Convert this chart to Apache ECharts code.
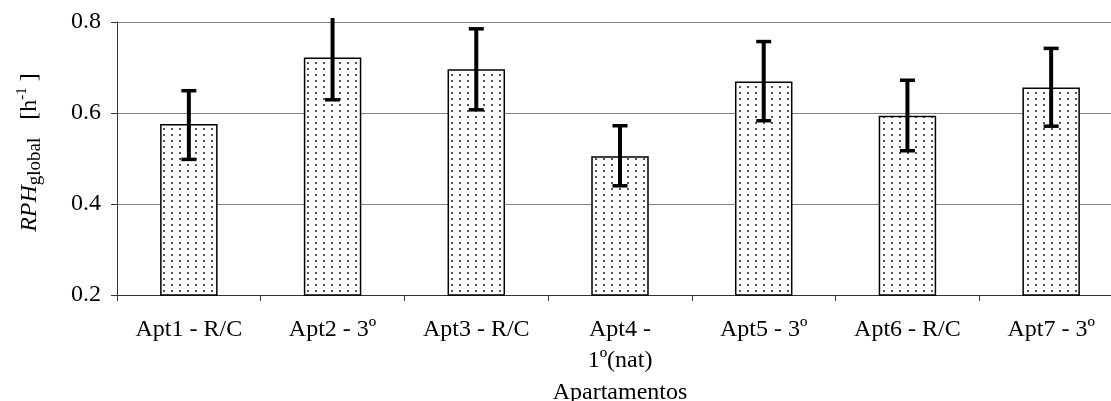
<!DOCTYPE html>
<html>
<head>
<meta charset="utf-8">
<script src="https://cdn.jsdelivr.net/npm/echarts@6/dist/echarts.min.js"></script>
<style>
html,body{margin:0;padding:0;background:#fff;}
#chart{width:1111px;height:401px;}
</style>
</head>
<body>
<div id="chart"></div>
<script>
const categories = ['Apt1 - R/C', 'Apt2 - 3º', 'Apt3 - R/C', 'Apt4 -\n1º(nat)', 'Apt5 - 3º', 'Apt6 - R/C', 'Apt7 - 3º'];
const values = [0.576, 0.722, 0.696, 0.505, 0.669, 0.594, 0.656];
const errorLow = [0.498, 0.629, 0.607, 0.440, 0.583, 0.517, 0.571];
const errorHigh = [0.649, 0.816, 0.785, 0.572, 0.757, 0.672, 0.742];
const yTicks = [0.2, 0.4, 0.6, 0.8];
const xTitle = 'Apartamentos';

const FONT = '"Liberation Serif", "Times New Roman", serif';

// dotted pattern
const pat = document.createElement('canvas');
pat.width = 8; pat.height = 6;
const pc = pat.getContext('2d');
pc.fillStyle = '#fff';
pc.fillRect(0, 0, 8, 6);
pc.fillStyle = '#555';
pc.fillRect(3, 2, 2, 2);

const chart = echarts.init(document.getElementById('chart'), null, {renderer: 'canvas'});

const errData = categories.map((c, i) => [i, errorLow[i], errorHigh[i]]);

chart.setOption({
  animation: false,
  backgroundColor: '#fff',
  grid: {left: 117, top: 22, width: 1006, bottom: 106, containLabel: false, outerBoundsMode: 'none'},
  xAxis: {
    type: 'category',
    data: categories,
    boundaryGap: true,
    axisLine: {lineStyle: {color: '#333', width: 1}},
    axisTick: {show: true, length: 6, lineStyle: {color: '#333'}},
    axisLabel: {fontFamily: FONT, fontSize: 24, color: '#000', margin: 19, lineHeight: 31, interval: 0},
    name: xTitle,
    nameLocation: 'middle',
    nameGap: 84,
    nameTextStyle: {fontFamily: FONT, fontSize: 24, color: '#000'}
  },
  yAxis: {
    type: 'value',
    min: yTicks[0],
    max: yTicks[yTicks.length - 1],
    interval: yTicks[1] - yTicks[0],
    axisLine: {show: true, lineStyle: {color: '#333', width: 1}},
    axisTick: {show: true, length: 6, lineStyle: {color: '#333'}},
    axisLabel: {fontFamily: FONT, fontSize: 24, color: '#000', margin: 16, formatter: v => v.toFixed(1)},
    splitLine: {show: true, lineStyle: {color: '#808080', width: 1}},
    name: '{i|RPH}{sub|global}{n|   [h}{sup|-1}{n| ]}',
    nameLocation: 'middle',
    nameRotate: 90,
    nameGap: 72,
    nameTextStyle: {
      fontFamily: FONT, color: '#000', padding: [0, 0, 0, 12],
      rich: {
        i: {fontFamily: FONT, fontSize: 24, fontStyle: 'italic', lineHeight: 30, verticalAlign: 'middle', color: '#000'},
        n: {fontFamily: FONT, fontSize: 24, lineHeight: 30, verticalAlign: 'middle', color: '#000'},
        sub: {fontFamily: FONT, fontSize: 19, lineHeight: 18, verticalAlign: 'bottom', color: '#000'},
        sup: {fontFamily: FONT, fontSize: 15, lineHeight: 15, verticalAlign: 'top', color: '#000'}
      }
    }
  },
  series: [
    {
      type: 'bar',
      data: values,
      barWidth: '40%',
      itemStyle: {color: {image: pat, repeat: 'repeat'}, borderColor: '#000', borderWidth: 1.5},
      z: 2
    },
    {
      type: 'custom',
      data: errData,
      z: 5,
      renderItem: function (params, api) {
        const x = api.value(0);
        const lo = api.coord([x, api.value(1)]);
        const hi = api.coord([x, api.value(2)]);
        const top = params.coordSys.y - 4;
        const clipped = hi[1] < top;
        const hy = clipped ? top : hi[1];
        const cw = 7.5;
        const children = [
          {type: 'line', shape: {x1: lo[0], y1: lo[1], x2: lo[0], y2: hy}, style: {stroke: '#000', lineWidth: 4}},
          {type: 'line', shape: {x1: lo[0] - cw, y1: lo[1], x2: lo[0] + cw, y2: lo[1]}, style: {stroke: '#000', lineWidth: 3.5}}
        ];
        if (!clipped) {
          children.push({type: 'line', shape: {x1: hi[0] - cw, y1: hi[1], x2: hi[0] + cw, y2: hi[1]}, style: {stroke: '#000', lineWidth: 3.5}});
        }
        return {type: 'group', children: children};
      }
    }
  ]
});
</script>
</body>
</html>
